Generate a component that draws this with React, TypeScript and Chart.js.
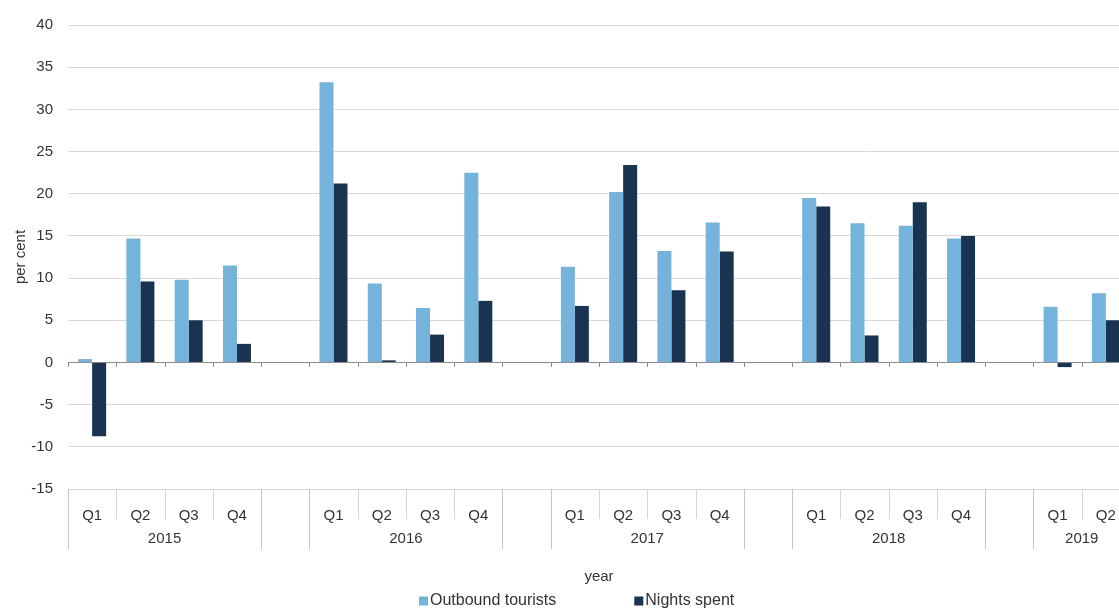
import React, { useEffect, useRef } from 'react';
import { Chart, registerables } from 'chart.js';

Chart.register(...registerables);

// ---- data ----
const quarters = [
  'Q1', 'Q2', 'Q3', 'Q4',
  '', 'Q1', 'Q2', 'Q3', 'Q4',
  '', 'Q1', 'Q2', 'Q3', 'Q4',
  '', 'Q1', 'Q2', 'Q3', 'Q4',
  '', 'Q1', 'Q2',
];
const years = [
  '2015', '2015', '2015', '2015',
  '', '2016', '2016', '2016', '2016',
  '', '2017', '2017', '2017', '2017',
  '', '2018', '2018', '2018', '2018',
  '', '2019', '2019',
];
const outboundTourists = [
  0.4, 14.7, 9.8, 11.5,
  null, 33.2, 9.35, 6.45, 22.5,
  null, 11.35, 20.2, 13.2, 16.6,
  null, 19.5, 16.5, 16.2, 14.7,
  null, 6.6, 8.2,
];
const nightsSpent = [
  -8.75, 9.6, 5.0, 2.2,
  null, 21.2, 0.25, 3.3, 7.3,
  null, 6.7, 23.4, 8.55, 13.15,
  null, 18.5, 3.2, 19.0, 15.0,
  null, -0.55, 5.0,
];
const seriesNames = ['Outbound tourists', 'Nights spent'];
const yMin = -15;
const yMax = 40;
const yStep = 5;

const FONT = '"Liberation Sans", Arial, Helvetica, sans-serif';
const TEXT = '#333333';
const COLORS = ['#74b3da', '#1a3350'];

const groupAxisPlugin = {
  id: 'groupAxis',
  afterDraw(chart: any) {
    const ctx = chart.ctx;
    const xs = chart.scales.x;
    const ys = chart.scales.y;
    const area = chart.chartArea;
    const n = quarters.length;
    const w = (xs.right - xs.left) / n;
    const bx = (i: number) => Math.round(xs.left + i * w) + 0.5;
    ctx.save();
    ctx.lineWidth = 1;

    // small tick marks below zero line
    const y0 = Math.round(ys.getPixelForValue(0));
    ctx.strokeStyle = '#8c8c8c';
    for (let i = 0; i <= n; i++) {
      ctx.beginPath();
      ctx.moveTo(bx(i), y0);
      ctx.lineTo(bx(i), y0 + 5);
      ctx.stroke();
    }

    // category separators
    const top = Math.round(area.bottom);
    for (let i = 0; i <= n; i++) {
      const long = i === 0 || i === n || quarters[i] === '' || quarters[i - 1] === '';
      ctx.strokeStyle = long ? '#c4c4c4' : '#d6d6d6';
      ctx.beginPath();
      ctx.moveTo(bx(i), top);
      ctx.lineTo(bx(i), top + (long ? 60 : 30));
      ctx.stroke();
    }

    // year labels
    ctx.fillStyle = TEXT;
    ctx.font = '15px ' + FONT;
    ctx.textAlign = 'center';
    ctx.textBaseline = 'middle';
    let i = 0;
    while (i < n) {
      if (years[i] === '') { i++; continue; }
      let j = i;
      while (j + 1 < n && years[j + 1] === years[i]) j++;
      const cx = xs.left + ((i + j + 1) / 2) * w;
      ctx.fillText(years[i], cx, top + 49.5);
      i = j + 1;
    }

    // legend
    ctx.font = '16px ' + FONT;
    ctx.textAlign = 'left';
    const ly = 601;
    const box = 9;
    const gapBoxText = 2;
    const gapItems = 78;
    const widths = seriesNames.map((s) => box + gapBoxText + ctx.measureText(s).width);
    let lx = 419;
    seriesNames.forEach((s, k) => {
      ctx.fillStyle = COLORS[k];
      ctx.fillRect(lx, ly - 4.5, box, box);
      ctx.fillStyle = TEXT;
      ctx.fillText(s, lx + box + gapBoxText, ly);
      lx += widths[k] + gapItems;
    });
    ctx.restore();
  },
};

export default function App() {
  const ref = useRef<HTMLCanvasElement | null>(null);
  useEffect(() => {
    if (!ref.current) return;
    Chart.defaults.font.family = FONT;
    Chart.defaults.color = TEXT;
    const chart = new Chart(ref.current, {
      type: 'bar',
      data: {
        labels: quarters,
        datasets: [
          {
            label: seriesNames[0],
            data: outboundTourists as any,
            backgroundColor: COLORS[0],
            categoryPercentage: 0.58,
            barPercentage: 1,
          },
          {
            label: seriesNames[1],
            data: nightsSpent as any,
            backgroundColor: COLORS[1],
            categoryPercentage: 0.58,
            barPercentage: 1,
          },
        ],
      },
      options: {
        animation: false,
        responsive: false,
        devicePixelRatio: 1,
        layout: { padding: { top: 25, left: 0, right: 0, bottom: 0 } },
        plugins: {
          legend: { display: false },
          tooltip: { enabled: false },
        },
        scales: {
          x: {
            grid: { display: false },
            border: { display: false },
            ticks: {
              autoSkip: false,
              maxRotation: 0,
              padding: 10,
              font: { size: 15 },
              color: TEXT,
            },
            title: {
              display: true,
              text: 'year',
              font: { size: 15 },
              color: TEXT,
              padding: { top: 0, bottom: 22 },
            },
            afterFit(scale: any) {
              scale.height = 119;
            },
          },
          y: {
            min: yMin,
            max: yMax,
            ticks: {
              stepSize: yStep,
              padding: 15,
              font: { size: 15 },
              color: TEXT,
            },
            grid: {
              drawTicks: false,
              color: (c: any) => (c.tick && c.tick.value === 0 ? '#8c8c8c' : '#d9d9d9'),
            },
            border: { display: false },
            title: {
              display: true,
              text: 'per cent',
              font: { size: 15 },
              color: TEXT,
              padding: { top: 12, bottom: 0 },
            },
            afterFit(scale: any) {
              scale.width = 68;
            },
          },
        },
      },
      plugins: [groupAxisPlugin],
    });
    return () => chart.destroy();
  }, []);

  return (
    <div
      style={{
        position: 'fixed',
        left: 0,
        top: 0,
        width: 1119,
        height: 608,
        overflow: 'hidden',
        background: '#fff',
      }}
    >
      <canvas ref={ref} width={1130} height={608} style={{ display: 'block' }} />
    </div>
  );
}
